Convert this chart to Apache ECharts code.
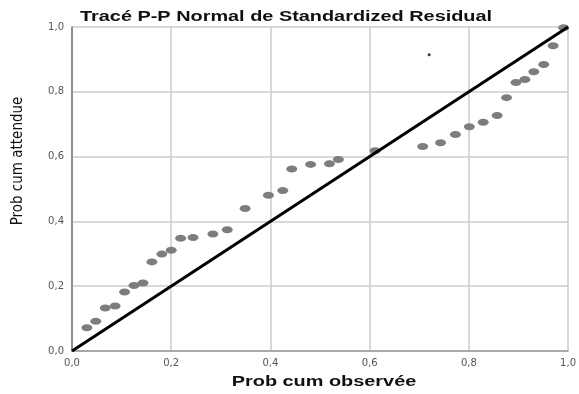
<!DOCTYPE html>
<html>
<head>
<meta charset="utf-8">
<script src="https://cdn.jsdelivr.net/npm/echarts@6/dist/echarts.min.js"></script>
<style>
  html, body { margin: 0; padding: 0; background: #fff; }
  #chart { width: 579px; height: 394px; }
</style>
</head>
<body>
<div id="chart"></div>
<script>
const obsProb = [0.030, 0.048, 0.067, 0.087, 0.106, 0.125, 0.143, 0.161, 0.181, 0.200,
  0.219, 0.244, 0.284, 0.313, 0.349, 0.396, 0.425, 0.443, 0.481, 0.519,
  0.537, 0.611, 0.707, 0.743, 0.773, 0.801, 0.829, 0.857, 0.876, 0.895,
  0.913, 0.931, 0.951, 0.970, 0.991]
const expProb = [0.072, 0.092, 0.133, 0.139, 0.182, 0.202, 0.210, 0.275, 0.299, 0.311,
  0.348, 0.350, 0.361, 0.374, 0.440, 0.481, 0.495, 0.562, 0.576, 0.578,
  0.591, 0.618, 0.631, 0.643, 0.668, 0.692, 0.706, 0.727, 0.782, 0.829,
  0.838, 0.862, 0.884, 0.942, 0.998]

// diagonal reference line
const refX = [0, 1]
const refY = [0, 1]

// stray dot in the image
const strayX = [0.720]
const strayY = [0.914]

const chart = echarts.init(document.getElementById('chart'))

const fmt = v => v.toFixed(1).replace('.', ',')

// the source image is stretched horizontally, so the texts are too
const stretch = 1.42

const option = {
  animation: false,
  graphic: [
    {
      type: 'text',
      x: 80,
      y: 17,
      scaleX: stretch,
      style: {
        text: 'Tracé P-P Normal de Standardized Residual',
        fontFamily: 'Liberation Sans',
        fontSize: 14,
        fontWeight: 'bold',
        fill: '#111',
        align: 'left',
        verticalAlign: 'middle'
      }
    },
    {
      type: 'text',
      x: 324,
      y: 382,
      scaleX: stretch,
      style: {
        text: 'Prob cum observée',
        fontFamily: 'Liberation Sans',
        fontSize: 14,
        fontWeight: 'bold',
        fill: '#111',
        align: 'center',
        verticalAlign: 'middle'
      }
    },
    {
      type: 'text',
      x: 18,
      y: 161,
      rotation: Math.PI / 2,
      style: {
        text: 'Prob cum attendue',
        fontFamily: 'Liberation Sans Narrow, DejaVu Sans Condensed, sans-serif',
        fontSize: 15,
        fill: '#111',
        align: 'center',
        verticalAlign: 'middle'
      }
    }
  ],
  grid: { left: 72, right: 5, top: 27, bottom: 43 },
  xAxis: {
    type: 'value',
    min: 0,
    max: 1,
    interval: 0.2,
    axisLine: { lineStyle: { color: '#999', width: 1.5 } },
    axisTick: { show: false },
    axisLabel: { formatter: fmt, fontFamily: 'DejaVu Sans', fontSize: 10, color: '#555', margin: 7 },
    splitLine: { show: true, lineStyle: { color: '#cdcdcd', width: 1.5 } }
  },
  yAxis: {
    type: 'value',
    min: 0,
    max: 1,
    interval: 0.2,
    axisLine: { show: true, lineStyle: { color: '#777', width: 1.5 } },
    axisTick: { show: false },
    axisLabel: { formatter: fmt, fontFamily: 'DejaVu Sans', fontSize: 10, color: '#555', margin: 8 },
    splitLine: { show: true, lineStyle: { color: '#cdcdcd', width: 1.5 } }
  },
  series: [
    {
      type: 'scatter',
      data: obsProb.map((x, i) => [x, expProb[i]]),
      symbol: 'circle',
      symbolSize: [11, 7],
      itemStyle: { color: '#7d7d7d', opacity: 1 },
      z: 3
    },
    {
      type: 'line',
      data: refX.map((x, i) => [x, refY[i]]),
      showSymbol: false,
      lineStyle: { color: '#000', width: 3 },
      z: 4
    },
    {
      type: 'scatter',
      data: strayX.map((x, i) => [x, strayY[i]]),
      symbolSize: 3,
      itemStyle: { color: '#000' },
      z: 5
    }
  ]
}

chart.setOption(option)
</script>
</body>
</html>
